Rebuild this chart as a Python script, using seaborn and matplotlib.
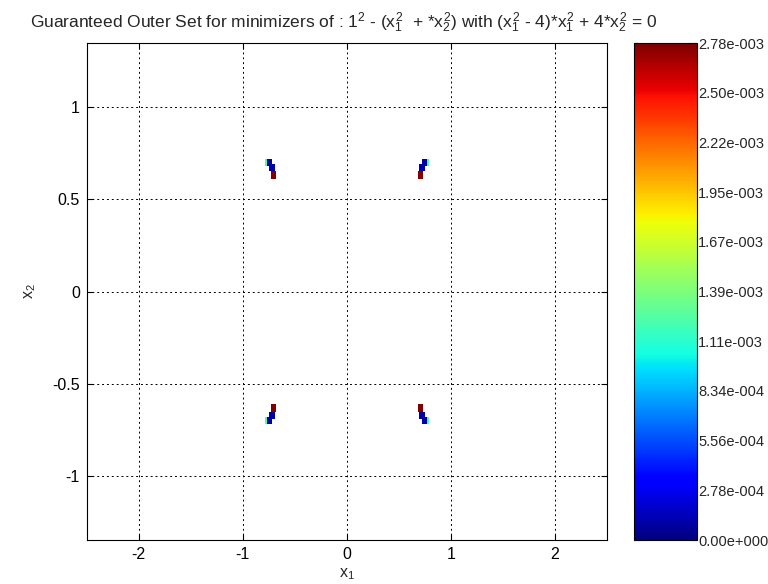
import numpy as np
import pandas as pd
import matplotlib
matplotlib.use("Agg")
import matplotlib.pyplot as plt
import seaborn as sns
from matplotlib.ticker import FuncFormatter

# ---- data: boxes of the outer set (x range, y range, criterion value) ----
box_xmin = [0.770, 0.720, 0.690, 0.685,
            -0.790, -0.770, -0.750, -0.730,
            -0.790, -0.770, -0.750, -0.730,
            0.770, 0.720, 0.690, 0.685]
box_xmax = [0.790, 0.770, 0.750, 0.730,
            -0.770, -0.720, -0.690, -0.685,
            -0.770, -0.720, -0.690, -0.685,
            0.790, 0.770, 0.750, 0.730]
box_ymin = [0.681, 0.681, 0.654, 0.611,
            0.681, 0.681, 0.654, 0.611,
            -0.719, -0.719, -0.692, -0.654,
            -0.719, -0.719, -0.692, -0.654]
box_ymax = [0.719, 0.719, 0.692, 0.654,
            0.719, 0.719, 0.692, 0.654,
            -0.681, -0.681, -0.654, -0.611,
            -0.681, -0.681, -0.654, -0.611]
box_value = [1.25e-3, 1.0e-4, 1.0e-4, 2.78e-3,
             1.25e-3, 1.0e-4, 1.0e-4, 2.78e-3,
             1.25e-3, 1.0e-4, 1.0e-4, 2.78e-3,
             1.25e-3, 1.0e-4, 1.0e-4, 2.78e-3]

value_min = 0.0
value_max = 2.78e-3
x_ticks = [-2, -1, 0, 1, 2]
y_ticks = [-1, -0.5, 0, 0.5, 1]
x_limits = [-2.5, 2.5]
y_limits = [-1.345, 1.345]

title_text = (r"Guaranteed Outer Set for minimizers of : $1^2$ - ($x_1^2$  + *$x_2^2$) "
              r"with ($x_1^2$ - 4)*$x_1^2$ + 4*$x_2^2$ = 0")

# ---- style ----
sns.set_style("white")
base = "Liberation Sans"
plt.rcParams["font.family"] = [base, "DejaVu Sans"]
plt.rcParams["mathtext.fontset"] = "custom"
plt.rcParams["mathtext.rm"] = base
plt.rcParams["mathtext.it"] = base
plt.rcParams["mathtext.bf"] = base + ":bold"

fs_tick = 11.5
fs_cbar = 10.5
fs_title = 12.5

cmap = matplotlib.colormaps["jet"]
norm = matplotlib.colors.Normalize(vmin=value_min, vmax=value_max)

df = pd.DataFrame({"xmin": box_xmin, "xmax": box_xmax,
                   "ymin": box_ymin, "ymax": box_ymax, "value": box_value})

fig = plt.figure(figsize=(7.68, 5.84), dpi=100)
fig.patch.set_facecolor("white")
ax = fig.add_axes([0.113, 0.0753, 0.677, 0.851])
cax = fig.add_axes([0.826, 0.0753, 0.081, 0.851])

ax.bar(df["xmin"], df["ymax"] - df["ymin"], width=df["xmax"] - df["xmin"],
       bottom=df["ymin"], align="edge", color=cmap(norm(df["value"])),
       linewidth=0)

ax.set_xlim(*x_limits)
ax.set_ylim(*y_limits)
ax.set_xticks(x_ticks)
ax.set_yticks(y_ticks)
ax.set_xticklabels([f"{t:g}" for t in x_ticks])
ax.set_yticklabels([f"{t:g}" for t in y_ticks])
ax.grid(True, color="black", linestyle=(0, (2, 3)), linewidth=0.7)
ax.set_axisbelow(False)
ax.tick_params(direction="in", length=4, labelsize=fs_tick, colors="black",
               top=True, right=True, bottom=True, left=True, pad=5)
for s in ax.spines.values():
    s.set_color("black")
    s.set_linewidth(0.8)
ax.set_xlabel(r"$x_1$", fontsize=fs_tick, labelpad=3)
ax.set_ylabel(r"$x_2$", fontsize=fs_tick, labelpad=10)
fig.text(0.448, 0.961, title_text, ha="center", va="center", fontsize=fs_title)

# ---- colorbar ----
def matlab_fmt(v, pos=None):
    s = f"{v:.2e}"
    mant, exp = s.split("e")
    sign = "-" if exp.startswith("-") else "+"
    return f"{mant}e{sign}{abs(int(exp)):03d}"

sm = matplotlib.cm.ScalarMappable(norm=norm, cmap=cmap)
cb = fig.colorbar(sm, cax=cax)
cb.set_ticks(np.linspace(value_min, value_max, 11))
cb.ax.yaxis.set_major_formatter(FuncFormatter(matlab_fmt))
cb.ax.tick_params(direction="in", length=4, labelsize=fs_cbar, pad=1,
                  left=True, right=True)
cb.outline.set_edgecolor("black")
cb.outline.set_linewidth(0.8)

fig.savefig("out.png", dpi=100, facecolor="white")
